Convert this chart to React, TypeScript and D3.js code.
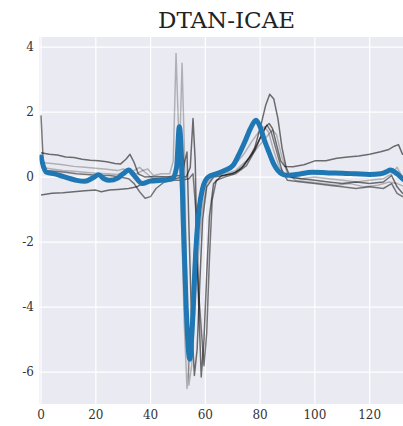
import React from "react";
import * as d3 from "d3";

type Pt = [number, number];

const title = "DTAN-ICAE";
const xTicks = [0, 20, 40, 60, 80, 100, 120];
const yTicks = [-6, -4, -2, 0, 2, 4];

// aligned mean signal (thick blue)
const meanSignal: Pt[] = [
  [0, 0.62], [1, 0.3], [2, 0.15], [5, 0.1], [8, 0.02], [10, -0.03], [13, -0.1], [16, -0.13],
  [19, -0.02], [21, 0.07], [23, -0.05], [25, -0.1], [28, -0.03], [30, 0.1], [32, 0.22], [34, 0.05],
  [37, -0.2], [40, -0.12], [44, -0.1], [48, -0.05], [49.5, 0.3], [50.5, 1.55], [51.3, 0.6], [52, -1.5],
  [53, -4], [54.3, -5.6], [55.3, -4.5], [56.5, -2.3], [57.7, -1], [59, -0.35], [61, 0], [64, 0.1],
  [67, 0.2], [70, 0.35], [72, 0.65], [74.5, 1.1], [76.5, 1.5], [78.5, 1.75], [80, 1.55], [81.5, 1.15],
  [83.4, 0.73], [85, 0.4], [86.5, 0.2], [89.5, 0.06], [93, 0.08], [99, 0.15], [105, 0.13], [110, 0.12],
  [115, 0.1], [120, 0.08], [124, 0.1], [126, 0.16], [127.6, 0.22], [130, 0.1], [132, -0.05], [134, -0.15], [136, -0.2],
];

// individual aligned samples (gray)
const sampleA: Pt[] = [
  [0, 0.75], [3, 0.7], [6, 0.68], [9, 0.62], [12, 0.6], [15, 0.55], [18, 0.52], [21, 0.5], [24, 0.47],
  [27, 0.42], [29, 0.4], [31, 0.55], [32.5, 0.7], [34, 0.45], [35.5, 0.1], [38, 0.0], [42, 0.02], [46, 0.0],
  [50, 0.05], [53, 0.0], [54.5, 0.3], [55.5, 1.8], [56.3, 0.5], [57, -2.5], [58.5, -6.15], [59.5, -5],
  [60.5, -3], [61.5, -1.2], [63, -0.2], [66, 0.05], [70, 0.1], [73, 0.25], [76, 0.6], [78, 0.9], [80, 1.5],
  [82, 2.2], [83.5, 2.55], [85, 2.4], [86.5, 1.8], [88, 0.9], [89.5, 0.3], [91, 0.0], [95, -0.05], [100, -0.1],
  [105, -0.15], [110, -0.2], [115, -0.15], [120, -0.2], [125, -0.15], [128, 0.05], [130, -0.3], [132, -0.5],
  [134, -0.4], [136, -0.3],
];

const sampleB: Pt[] = [
  [0, -0.55], [4, -0.5], [8, -0.48], [12, -0.45], [16, -0.42], [20, -0.4], [22, -0.45], [25, -0.4],
  [28, -0.38], [32, -0.35], [35, -0.3], [38, -0.15], [41, -0.05], [45, -0.05], [49, -0.05], [51.5, 0.0],
  [52.5, 0.5], [53.3, 0.77], [54, -1.5], [55, -4.5], [56, -6.1], [57, -5.3], [58, -3.2], [59, -1.3],
  [60.5, -0.3], [63, 0.0], [67, 0.05], [71, 0.15], [74, 0.35], [77, 0.7], [80, 1.2], [82, 1.55], [83.3, 1.65],
  [84.5, 1.5], [86, 1.0], [87.5, 0.5], [89, 0.33], [92, 0.32], [96, 0.38], [100, 0.5], [104, 0.5], [108, 0.58],
  [112, 0.62], [116, 0.65], [120, 0.7], [124, 0.78], [127, 0.85], [129, 0.95], [130.5, 1.0], [132, 0.7],
  [134, 0.75], [136, 0.8],
];

const sampleC: Pt[] = [
  [0, 0.45], [4, 0.42], [8, 0.38], [12, 0.33], [16, 0.3], [20, 0.27], [24, 0.24], [28, 0.2], [30, 0.25],
  [32, 0.2], [35, 0.1], [37, 0.2], [39, 0.25], [41, 0.05], [44, 0.1], [47, 0.1], [48.3, 0.5], [49.3, 3.8],
  [50.2, 1.5], [51.2, -1], [52.3, -4.5], [53.3, -6.5], [54.3, -5.5], [55.5, -3], [57, -1], [59, -0.2],
  [62, 0.1], [66, 0.15], [70, 0.3], [74, 0.7], [77, 1.1], [80, 1.45], [81.5, 1.55], [83, 1.4], [85, 0.8],
  [87, 0.3], [90, 0.0], [95, -0.05], [100, 0.0], [105, -0.05], [110, -0.1], [115, -0.15], [120, -0.1],
  [125, -0.05], [128, 0.1], [130, 0.3], [132, 0.0], [134, -0.2], [136, -0.25],
];

const sampleD: Pt[] = [
  [0, 0.3], [4, 0.25], [8, 0.2], [12, 0.18], [16, 0.15], [20, 0.12], [24, 0.1], [28, 0.08], [31, 0.2],
  [33, 0.15], [36, 0.3], [38, 0.15], [41, -0.05], [45, 0.0], [49, 0.0], [50.6, 0.8], [51.5, 3.5], [52.3, 1.0],
  [53, -2.5], [54, -6.4], [55, -5.8], [56.5, -3.5], [58.5, -1.2], [60.5, -0.2], [63, 0.05], [67, 0.1],
  [71, 0.2], [75, 0.5], [79, 0.9], [82, 1.2], [84.5, 1.45], [86, 1.3], [88, 0.6], [90, 0.1], [93, -0.1],
  [98, -0.15], [103, -0.2], [108, -0.25], [113, -0.2], [118, -0.3], [123, -0.25], [127, -0.15], [130, -0.2],
  [133, -0.3], [136, -0.35],
];

const sampleE: Pt[] = [
  [0, 1.9], [0.8, 0.5], [1.5, 0.2], [5, 0.18], [9, 0.15], [13, 0.1], [17, 0.08], [21, 0.05], [25, 0.05],
  [29, 0.0], [32, -0.05], [34, -0.2], [36, -0.45], [38, -0.65], [40, -0.6], [42, -0.35], [45, -0.15],
  [48, -0.1], [51, -0.1], [54, -0.05], [55.5, 0.1], [56.5, -1], [57.5, -3.5], [59.5, -5.8], [60.5, -4.8],
  [61.5, -2.5], [62.5, -0.7], [64, -0.1], [67, 0.0], [71, 0.1], [75, 0.35], [78, 0.8], [80.5, 1.3],
  [82.5, 1.6], [84, 1.4], [86, 0.8], [88, 0.2], [90, -0.1], [95, -0.15], [100, -0.2], [105, -0.25],
  [110, -0.3], [115, -0.35], [120, -0.3], [125, -0.35], [128, -0.2], [130, -0.5], [132, -0.6], [134, -0.5],
  [136, -0.45],
];

const samples = [
  { data: sampleC, opacity: 0.25 },
  { data: sampleD, opacity: 0.25 },
  { data: sampleE, opacity: 0.5 },
  { data: sampleA, opacity: 0.55 },
  { data: sampleB, opacity: 0.55 },
];

const W = 403;
const H = 426;
const plot = { left: 39.5, right: 413.5, top: 37, bottom: 404 };

const App = () => {
  const x = d3.scaleLinear().domain([-0.55, 136]).range([plot.left, plot.right]);
  const y = d3.scaleLinear().domain([-6.98, 4.31]).range([plot.bottom, plot.top]);
  const line = d3.line<Pt>().x(d => x(d[0])).y(d => y(d[1]));
  const smooth = d3.line<Pt>().x(d => x(d[0])).y(d => y(d[1])).curve(d3.curveMonotoneX);
  const font = "'DejaVu Serif', serif";

  return (
    <svg width={W} height={H} style={{ position: "absolute", left: 0, top: 0 }}>
      <defs>
        <clipPath id="plotclip">
          <rect x={plot.left} y={plot.top} width={plot.right - plot.left} height={plot.bottom - plot.top} />
        </clipPath>
      </defs>
      <rect x={0} y={0} width={W} height={H} fill="#fff" />
      <rect x={plot.left} y={plot.top} width={plot.right - plot.left} height={plot.bottom - plot.top} fill="#EAEAF2" />
      {xTicks.map(t => (
        <line key={"gx" + t} x1={x(t)} x2={x(t)} y1={plot.top} y2={plot.bottom} stroke="#fff" strokeWidth={1.2} />
      ))}
      {yTicks.map(t => (
        <line key={"gy" + t} x1={plot.left} x2={plot.right} y1={y(t)} y2={y(t)} stroke="#fff" strokeWidth={1.2} />
      ))}
      <g clipPath="url(#plotclip)">
        {samples.map((s, i) => (
          <path key={i} d={line(s.data) || ""} fill="none" stroke="#000" strokeOpacity={s.opacity} strokeWidth={1.5} strokeLinejoin="round" />
        ))}
        <path d={smooth(meanSignal) || ""} fill="none" stroke="#1f77b4" strokeWidth={5} strokeLinejoin="round" strokeLinecap="round" />
      </g>
      {xTicks.map(t => (
        <text key={"tx" + t} x={x(t)} y={419} textAnchor="middle" fontFamily={font} fontSize={12} fill="#333">
          {t}
        </text>
      ))}
      {yTicks.map(t => (
        <text key={"ty" + t} x={34} y={y(t)} dy="0.35em" textAnchor="end" fontFamily={font} fontSize={12} fill="#333">
          {t}
        </text>
      ))}
      <text x={(plot.left + plot.right) / 2} y={28} textAnchor="middle" fontFamily={font} fontSize={23} fill="#222">
        {title}
      </text>
    </svg>
  );
};

export default App;
